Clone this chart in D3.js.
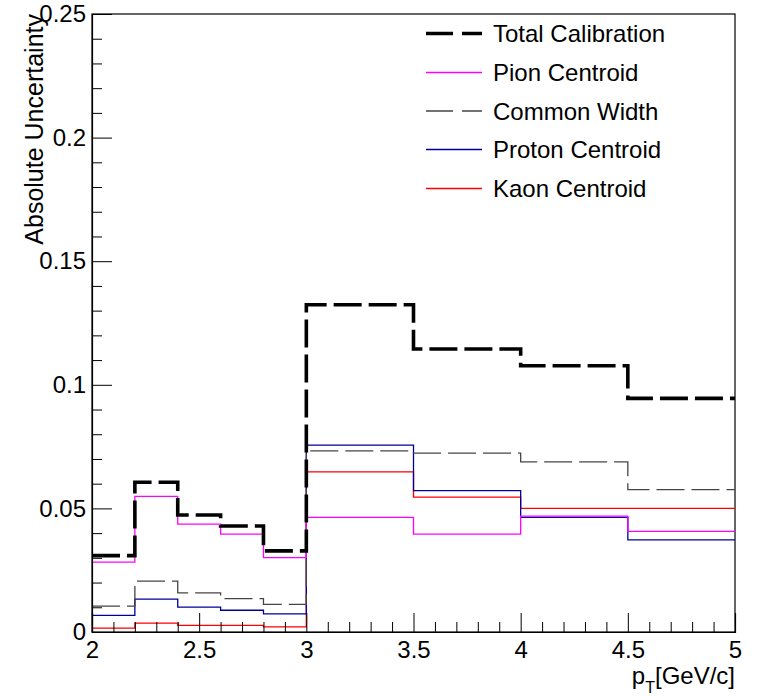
<!DOCTYPE html>
<html>
<head>
<meta charset="utf-8">
<script src="https://cdn.jsdelivr.net/npm/d3@7"></script>
<style>
  html, body { margin: 0; padding: 0; background: #fff; }
  svg { display: block; }
  text { font-family: "Liberation Sans", Arial, Helvetica, sans-serif; fill: #000; }
</style>
</head>
<body>
<svg id="chart" width="772" height="696"></svg>
<script>
// ---- data ----
const binEdges = [2.0, 2.2, 2.4, 2.6, 2.8, 3.0, 3.5, 4.0, 4.5, 5.0];
const totalCalibration = [0.0309, 0.0606, 0.0473, 0.0429, 0.0328, 0.1324, 0.1145, 0.1077, 0.0945];
const pionCentroid     = [0.0283, 0.0549, 0.0436, 0.0396, 0.0301, 0.0464, 0.0396, 0.0469, 0.0407];
const commonWidth      = [0.0105, 0.0206, 0.0158, 0.0135, 0.0112, 0.0733, 0.0724, 0.0688, 0.0576];
const protonCentroid   = [0.0067, 0.0133, 0.0101, 0.0088, 0.0073, 0.0756, 0.0572, 0.0464, 0.0373];
const kaonCentroid     = [0.0016, 0.0036, 0.0027, 0.0027, 0.0021, 0.0648, 0.0546, 0.0500, 0.0500];
const seriesNames = ["Total Calibration", "Pion Centroid", "Common Width", "Proton Centroid", "Kaon Centroid"];
const xMajorTicks = [2, 2.5, 3, 3.5, 4, 4.5, 5];
const yMajorTicks = [0, 0.05, 0.1, 0.15, 0.2, 0.25];
const yTickLabels = ["0", "0.05", "0.1", "0.15", "0.2", "0.25"];
const xTickLabels = ["2", "2.5", "3", "3.5", "4", "4.5", "5"];

const series = [
  { name: seriesNames[0], values: totalCalibration, color: "#000000", width: 3.6, dash: "28 7" },
  { name: seriesNames[1], values: pionCentroid,     color: "#ff00ff", width: 1.3, dash: null },
  { name: seriesNames[2], values: commonWidth,      color: "#454545", width: 1.3, dash: "28 7" },
  { name: seriesNames[3], values: protonCentroid,   color: "#000099", width: 1.3, dash: null },
  { name: seriesNames[4], values: kaonCentroid,     color: "#ff0000", width: 1.3, dash: null }
];

// ---- layout ----
const svg = d3.select("#chart");
const mLeft = 92, mRight = 735, mTop = 14, mBottom = 632;
const x = d3.scaleLinear().domain([2, 5]).range([mLeft, mRight]);
const y = d3.scaleLinear().domain([0, 0.25]).range([mBottom, mTop]);

// frame
svg.append("rect")
  .attr("x", mLeft).attr("y", mTop)
  .attr("width", mRight - mLeft).attr("height", mBottom - mTop)
  .attr("fill", "none").attr("stroke", "#000").attr("stroke-width", 1.2);

// histograms
const stepLine = d3.line()
  .x(d => x(d[0]))
  .y(d => y(d[1]))
  .curve(d3.curveStepAfter);

const plotOrder = [4, 3, 2, 1, 0];
plotOrder.forEach(i => {
  const s = series[i];
  const pts = s.values.map((v, k) => [binEdges[k], v]);
  pts.push([binEdges[binEdges.length - 1], s.values[s.values.length - 1]]);
  const p = svg.append("path")
    .attr("d", stepLine(pts))
    .attr("fill", "none")
    .attr("stroke", s.color)
    .attr("stroke-width", s.width);
  if (s.dash) p.attr("stroke-dasharray", s.dash);
});

// y axis (ticks pointing inside)
const yMinor = d3.range(0, 0.2501, 0.01).filter(v => Math.abs(Math.round(v * 20) - v * 20) > 1e-6);
svg.append("g")
  .attr("transform", `translate(${mLeft},0)`)
  .call(d3.axisLeft(y).tickValues(yMinor).tickSize(-10).tickFormat(""))
  .call(g => g.select(".domain").remove())
  .call(g => g.selectAll("line").attr("stroke", "#000").attr("stroke-width", 1));
svg.append("g")
  .attr("transform", `translate(${mLeft},0)`)
  .call(d3.axisLeft(y).tickValues(yMajorTicks).tickSize(-20).tickPadding(6)
    .tickFormat((d, i) => yTickLabels[i]))
  .call(g => g.select(".domain").attr("stroke", "#000").attr("stroke-width", 1.2))
  .call(g => g.selectAll("line").attr("stroke", "#000").attr("stroke-width", 1))
  .call(g => g.selectAll("text")
    .attr("font-size", 24)
    .attr("font-family", "Liberation Sans, Arial, sans-serif")
    .attr("fill", "#000"));

// x axis (ticks pointing inside)
const xMinor = d3.range(2, 5.0001, 0.1).filter(v => Math.abs(Math.round(v * 2) - v * 2) > 1e-6);
svg.append("g")
  .attr("transform", `translate(0,${mBottom})`)
  .call(d3.axisBottom(x).tickValues(xMinor).tickSize(-10).tickFormat(""))
  .call(g => g.select(".domain").remove())
  .call(g => g.selectAll("line").attr("stroke", "#000").attr("stroke-width", 1));
svg.append("g")
  .attr("transform", `translate(0,${mBottom})`)
  .call(d3.axisBottom(x).tickValues(xMajorTicks).tickSize(-19).tickPadding(9)
    .tickFormat((d, i) => xTickLabels[i]))
  .call(g => g.select(".domain").attr("stroke", "#000").attr("stroke-width", 1.2))
  .call(g => g.selectAll("line").attr("stroke", "#000").attr("stroke-width", 1))
  .call(g => g.selectAll("text")
    .attr("font-size", 24)
    .attr("font-family", "Liberation Sans, Arial, sans-serif")
    .attr("fill", "#000"));

// axis titles
svg.append("text")
  .attr("transform", `translate(43,${mTop}) rotate(-90)`)
  .attr("text-anchor", "end")
  .attr("font-size", 25)
  .text("Absolute Uncertainty");

const xt = svg.append("text")
  .attr("x", mRight).attr("y", 684)
  .attr("text-anchor", "end")
  .attr("font-size", 24);
xt.append("tspan").text("p");
xt.append("tspan").attr("font-size", 16).attr("dy", 9).text("T");
xt.append("tspan").attr("dy", -9).text("[GeV/c]");

// legend
const legendRows = [33.5, 72.5, 111, 149.5, 188.5];
series.forEach((s, i) => {
  const ly = legendRows[i];
  const l = svg.append("line")
    .attr("x1", 426).attr("x2", 482)
    .attr("y1", ly).attr("y2", ly)
    .attr("stroke", s.color)
    .attr("stroke-width", s.width);
  if (s.dash) l.attr("stroke-dasharray", "27 9");
  svg.append("text")
    .attr("x", 493).attr("y", ly)
    .attr("dy", "0.36em")
    .attr("font-size", 24)
    .text(s.name);
});
</script>
</body>
</html>
